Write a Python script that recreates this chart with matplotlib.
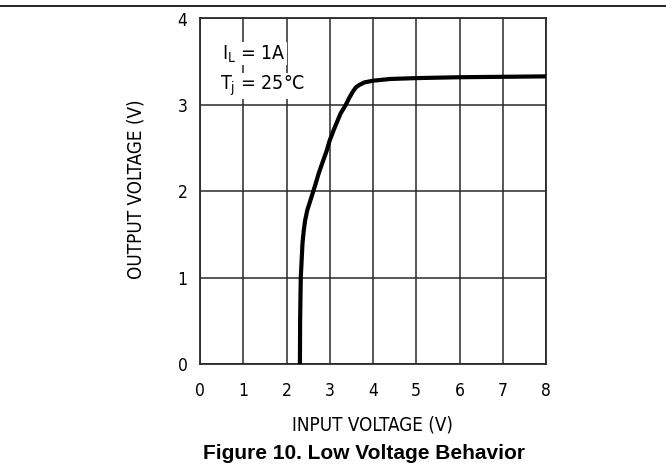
import matplotlib.pyplot as plt
from matplotlib.lines import Line2D

# curve
vin = [2.31, 2.315, 2.33, 2.35, 2.37, 2.40, 2.43, 2.48, 2.55, 2.60, 2.67,
       2.74, 2.83, 2.93, 3.00, 3.10, 3.25, 3.37, 3.45, 3.53, 3.60, 3.68,
       3.80, 4.00, 4.40, 5.00, 6.00, 7.00, 8.00]
vout = [0.0, 0.50, 1.00, 1.20, 1.40, 1.55, 1.66, 1.78, 1.89, 1.97, 2.08,
        2.20, 2.33, 2.47, 2.59, 2.72, 2.90, 3.00, 3.08, 3.15, 3.20, 3.23,
        3.26, 3.28, 3.30, 3.31, 3.32, 3.325, 3.33]

x_ticks = [0, 1, 2, 3, 4, 5, 6, 7, 8]
y_ticks = [0, 1, 2, 3, 4]

cad_font = 'DejaVu Sans'
grid_color = '#2a2a2a'

fig = plt.figure(figsize=(6.66, 4.69), dpi=100)
ax = fig.add_axes([200 / 666, 1 - 364 / 469, 346 / 666, 345.5 / 469])

ax.set_xlim(0, 8)
ax.set_ylim(0, 4)
ax.set_xticks(x_ticks)
ax.set_yticks(y_ticks)
ax.set_xticklabels([str(v) for v in x_ticks], family=cad_font, fontsize=12.5,
                   stretch='condensed')
ax.set_yticklabels([str(v) for v in y_ticks], family=cad_font, fontsize=12.5,
                   stretch='condensed')
ax.tick_params(axis='x', length=0, pad=13)
ax.tick_params(axis='y', length=0, pad=9)

ax.grid(True, color=grid_color, linewidth=1.1)
for s in ax.spines.values():
    s.set_color(grid_color)
    s.set_linewidth(1.3)

ax.plot(vin, vout, color='black', linewidth=3.0, solid_joinstyle='round',
        zorder=3)

# condition labels with white background over the grid
box = dict(facecolor='white', edgecolor='none', pad=0.5)
ax.text(0.52, 3.59, r'I$_\mathregular{L}$ = 1A', family=cad_font, fontsize=14,
        stretch='condensed', va='center', ha='left', bbox=box, zorder=4)
ax.text(0.47, 3.22, r'T$_\mathregular{j}$ = 25°C', family=cad_font, fontsize=14,
        stretch='condensed', va='center', ha='left', bbox=box, zorder=4)

fig.text(372 / 666, 1 - 425 / 469, 'INPUT VOLTAGE (V)', family=cad_font,
         fontsize=13.5, stretch='condensed', ha='center', va='center')
fig.text(136 / 666, 1 - 189 / 469, 'OUTPUT VOLTAGE (V)', family=cad_font,
         fontsize=13.5, stretch='condensed', ha='center', va='center',
         rotation=90)
fig.text(364 / 666, 1 - 453 / 469, 'Figure 10. Low Voltage Behavior',
         family='Liberation Sans', fontweight='bold', fontsize=15,
         ha='center', va='center')

# rule at the top of the page
fig.add_artist(Line2D([0, 1], [1 - 6 / 469, 1 - 6 / 469], color='black',
                      linewidth=1.2, transform=fig.transFigure))

fig.savefig('out.png', dpi=100)
